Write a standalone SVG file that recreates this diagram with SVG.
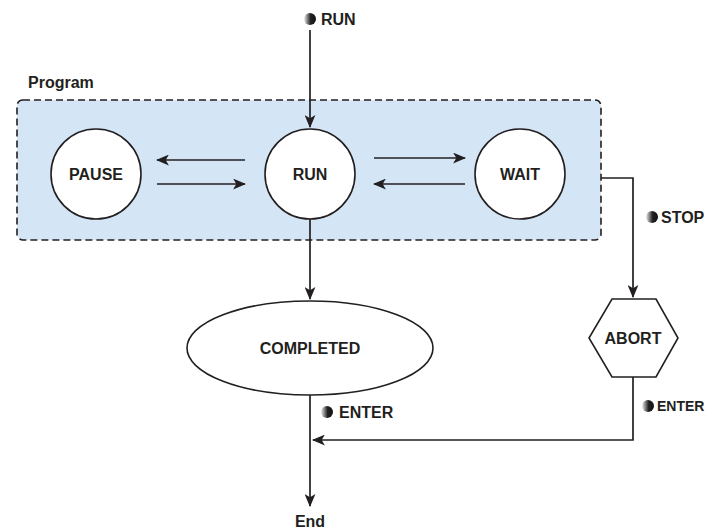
<svg xmlns="http://www.w3.org/2000/svg" width="708" height="532" viewBox="0 0 708 532">
<style>
text{font-family:"Liberation Sans",Arial,sans-serif;font-weight:bold;fill:#231f20}
.lbl{font-size:16px}
.node{fill:#fff;stroke:#231f20;stroke-width:1.6}
.conn{fill:none;stroke:#231f20;stroke-width:1.7}
</style>
<defs>
<linearGradient id="g" x1="0" y1="0" x2="1" y2="0">
<stop offset="0" stop-color="#ececec"/>
<stop offset="0.55" stop-color="#222"/>
<stop offset="1" stop-color="#111"/>
</linearGradient>
<marker id="ah" viewBox="0 0 12 10" refX="11" refY="5" markerWidth="13" markerHeight="11" markerUnits="userSpaceOnUse" orient="auto">
<path d="M0,0 L12,5 L0,10 L3,5 Z" fill="#231f20"/>
</marker>
</defs>
<g id="program">
<rect x="17" y="100" width="584" height="140" rx="6" fill="#d4e6f5" stroke="#231f20" stroke-width="1.6" stroke-dasharray="7,4"/>
<text x="28" y="88" class="lbl">Program</text>
</g>
<g id="connectors">
<line class="conn" x1="310" y1="30" x2="310" y2="127" marker-end="url(#ah)"/>
<line class="conn" x1="245" y1="160" x2="157" y2="160" marker-end="url(#ah)"/>
<line class="conn" x1="157" y1="184" x2="245" y2="184" marker-end="url(#ah)"/>
<line class="conn" x1="374" y1="158" x2="465" y2="158" marker-end="url(#ah)"/>
<line class="conn" x1="465" y1="184" x2="374" y2="184" marker-end="url(#ah)"/>
<line class="conn" x1="310" y1="219" x2="310" y2="299" marker-end="url(#ah)"/>
<polyline class="conn" points="601,178 633,178 633,297" marker-end="url(#ah)"/>
<polyline class="conn" points="633,377 633,440 313,440" marker-end="url(#ah)"/>
<line class="conn" x1="310" y1="395" x2="310" y2="506" marker-end="url(#ah)"/>
</g>
<g id="label-run">
<circle cx="310" cy="19" r="6" fill="url(#g)"/>
<text x="321" y="25" class="lbl">RUN</text>
</g>
<g id="label-stop">
<circle cx="652" cy="217" r="6" fill="url(#g)"/>
<text x="661" y="223" class="lbl">STOP</text>
</g>
<g id="label-enter1">
<circle cx="327" cy="412" r="6" fill="url(#g)"/>
<text x="339" y="418" class="lbl">ENTER</text>
</g>
<g id="label-enter2">
<circle cx="648" cy="406" r="6" fill="url(#g)"/>
<text x="657" y="411" style="font-size:14px">ENTER</text>
</g>
<g id="pause">
<circle class="node" cx="96" cy="174" r="45"/>
<text x="96" y="180" class="lbl" text-anchor="middle">PAUSE</text>
</g>
<g id="run">
<circle class="node" cx="310" cy="174" r="45"/>
<text x="310" y="180" class="lbl" text-anchor="middle">RUN</text>
</g>
<g id="wait">
<circle class="node" cx="520" cy="174" r="45"/>
<text x="520" y="180" class="lbl" text-anchor="middle">WAIT</text>
</g>
<g id="completed">
<ellipse class="node" cx="310" cy="348" rx="123" ry="47"/>
<text x="310" y="354" class="lbl" text-anchor="middle">COMPLETED</text>
</g>
<g id="abort">
<polygon class="node" points="612,299 656,299 678,338 656,377 612,377 589,338"/>
<text x="633" y="344" class="lbl" text-anchor="middle">ABORT</text>
</g>
<g id="end">
<text x="310" y="527" class="lbl" text-anchor="middle">End</text>
</g>
</svg>
